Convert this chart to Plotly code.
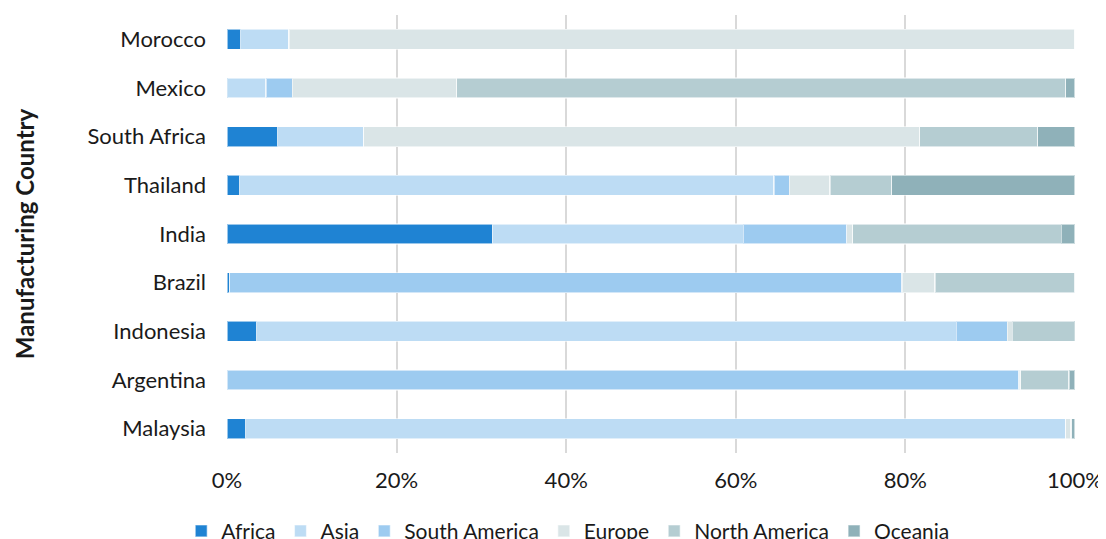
import plotly.graph_objects as go

countries = ["Morocco", "Mexico", "South Africa", "Thailand", "India", "Brazil", "Indonesia", "Argentina", "Malaysia"]

africa        = [1.6, 0.1, 6.0, 1.5, 31.3, 0.3, 3.5, 0.0, 2.2]
asia          = [5.7, 4.5, 10.1, 63.0, 29.6, 0.0, 82.5, 0.0, 96.7]
south_america = [0.0, 3.1, 0.0, 1.8, 12.2, 79.3, 6.0, 93.4, 0.0]
europe        = [92.7, 19.4, 65.6, 4.8, 0.7, 3.9, 0.6, 0.2, 0.6]
north_america = [0.0, 71.8, 13.9, 7.3, 24.6, 16.5, 7.3, 5.7, 0.1]
oceania       = [0.0, 1.1, 4.4, 21.6, 1.6, 0.0, 0.1, 0.7, 0.4]

series = [
    ("Africa", africa, "#1f83d3"),
    ("Asia", asia, "#bddcf4"),
    ("South America", south_america, "#9dcbf0"),
    ("Europe", europe, "#dae5e7"),
    ("North America", north_america, "#b5cdd2"),
    ("Oceania", oceania, "#8fb1b9"),
]

fig = go.Figure()
for name, vals, col in series:
    fig.add_trace(go.Bar(
        y=countries, x=vals, name=name, orientation="h",
        marker=dict(color=col, line=dict(color="rgba(255,255,255,0.55)", width=1.2)),
    ))

font_family = "Lato, 'Open Sans', sans-serif"
# page body has an 8px margin, so the figure is 8px smaller than the window
fig.update_layout(
    barmode="stack",
    bargap=0.59,
    width=1098, height=531,
    margin=dict(l=219, r=31, t=7, b=86, autoexpand=False),
    paper_bgcolor="white", plot_bgcolor="white",
    font=dict(family=font_family, size=22, color="#1a1a1a"),
    xaxis=dict(range=[0, 100], tickvals=[0, 20, 40, 60, 80, 100],
               ticktext=["0%", "20%", "40%", "60%", "80%", "100%"],
               showgrid=True, gridcolor="#d9d9d9", gridwidth=2,
               zeroline=False, showline=False, ticks="", automargin=False,
               tickfont=dict(size=22), ticklabelstandoff=12, fixedrange=True),
    yaxis=dict(autorange="reversed", showgrid=False, ticks="", showline=False,
               automargin=False,
               tickfont=dict(size=22), ticklabelstandoff=20,
               title=dict(text="<b>Manufacturing Country</b>", font=dict(size=24), standoff=46)),
    legend=dict(orientation="h", x=-0.054, xanchor="left", y=-0.132, yanchor="top",
                font=dict(size=21), traceorder="normal", itemwidth=30),
    showlegend=True,
)

fig.write_html("out.html")
